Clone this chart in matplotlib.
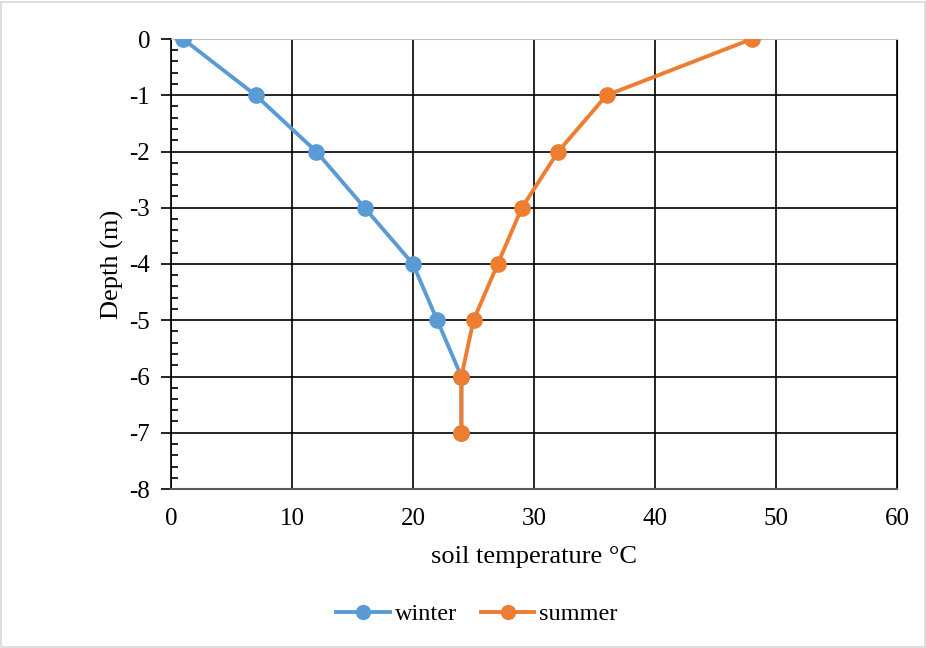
import matplotlib
matplotlib.use('Agg')
import matplotlib.pyplot as plt
from matplotlib.patches import Rectangle
from matplotlib.ticker import MultipleLocator

# depth (m) and soil temperature (degC)
depth = [0, -1, -2, -3, -4, -5, -6, -7]
winter = [1, 7, 12, 16, 20, 22, 24, 24]
summer = [48, 36, 32, 29, 27, 25, 24, 24]

blue = '#5B9BD5'
orange = '#ED7D31'

plt.rcParams['font.family'] = ['Liberation Serif', 'DejaVu Serif']
plt.rcParams['axes.unicode_minus'] = False

fig = plt.figure(figsize=(9.26, 6.48), dpi=100)
ax = fig.add_axes([171 / 926, 1 - 489 / 648, 726 / 926, 450 / 648])

ax.plot(winter, depth, color=blue, lw=2.8, marker='o', ms=11, label='winter', zorder=3)
ax.plot(summer, depth, color=orange, lw=2.8, marker='o', ms=11, label='summer', zorder=4)

ax.set_xlim(0, 60)
ax.set_ylim(-8, 0)
ax.xaxis.set_major_locator(MultipleLocator(10))
ax.yaxis.set_major_locator(MultipleLocator(1))
ax.yaxis.set_minor_locator(MultipleLocator(0.2))
ax.grid(True, which='major', color='black', lw=1.2)
ax.set_axisbelow(True)

ax.tick_params(axis='x', length=0, labelsize=18, pad=14)
ax.tick_params(axis='y', which='major', length=7, direction='out', width=1.2, labelsize=18, pad=8)
ax.tick_params(axis='y', which='minor', length=5, direction='in', width=1.2)

ax.spines['top'].set_color('#bfbfbf')
ax.spines['right'].set_color('black')
ax.spines['bottom'].set_color('#595959')
ax.spines['bottom'].set_linewidth(1.5)
ax.spines['left'].set_color('black')
ax.spines['left'].set_linewidth(1.2)

ax.set_xlabel('soil temperature °C', fontsize=19, labelpad=11)
ax.set_ylabel('Depth (m)', fontsize=19, labelpad=4)

leg = fig.legend(loc='center', bbox_to_anchor=(477 / 926, 1 - 614 / 648), ncol=2,
                 frameon=False, fontsize=17.5, handlelength=2.2, columnspacing=1.0,
                 handletextpad=0.2)
for h in leg.legend_handles:
    h.set_markersize(10)

fig.patches.append(Rectangle((0.001, 0.001), 0.998, 0.996, transform=fig.transFigure,
                             fill=False, edgecolor='#d9d9d9', lw=1.2))

fig.savefig('out.png', dpi=100)
